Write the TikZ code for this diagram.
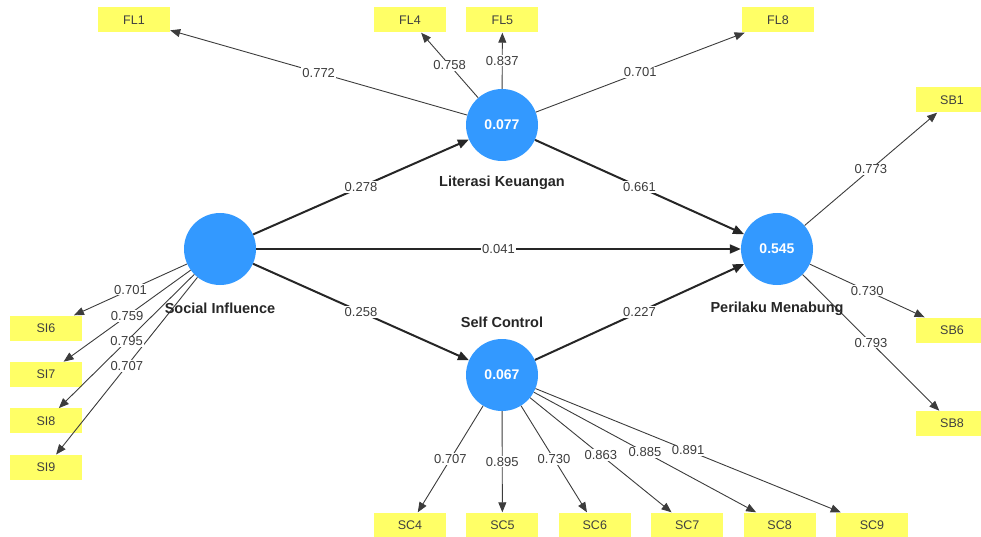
\documentclass[tikz,border=0pt]{standalone}
\usepackage{fontspec}
\setmainfont{Liberation Sans}
\usetikzlibrary{positioning,arrows.meta}
\definecolor{lvblue}{RGB}{51,153,255}
\definecolor{mvyellow}{RGB}{255,255,102}
\definecolor{txtgrey}{RGB}{60,60,60}
\begin{document}
\begin{tikzpicture}[x=1pt, y=-1pt,
    lv/.style = {circle, fill=lvblue, minimum size=72pt, inner sep=0pt, text=white, font=\fontsize{14}{16}\selectfont\bfseries},
    lvname/.style = {inner sep=0pt, text=black!85, font=\fontsize{14.5}{17}\selectfont\bfseries},
    ind/.style = {fill=mvyellow, minimum width=72pt, minimum height=25pt, inner sep=0pt, text=black!75, font=\fontsize{12.5}{14}\selectfont},
    loading/.style = {draw=txtgrey, line width=0.9pt, -{Triangle[length=10pt,width=8pt]}},
    struct/.style = {draw=black!85, line width=2pt, -{Triangle[length=11pt,width=9pt]}},
    coef/.style = {fill=white, inner sep=1pt, text=txtgrey, font=\fontsize{13}{15}\selectfont}]
      \useasboundingbox (0,0) rectangle (981,537);
      % latent variables
      \node[lv] (SI) at (220,249) {};
      \node[lv] (LK) at (502,125) {0.077};
      \node[lv] (SC) at (502,375) {0.067};
      \node[lv] (PM) at (777,249) {0.545};
      % indicators
      \node[ind] (FL1) at (134,20) {FL1};
      \node[ind] (FL4) at (410,20) {FL4};
      \node[ind] (FL5) [right=20pt of FL4] {FL5};
      \node[ind] (FL8) at (778,20) {FL8};
      \node[ind] (SB1) at (952,100) {SB1};
      \node[ind] (SB6) at (952,330) {SB6};
      \node[ind] (SB8) [below=68pt of SB6] {SB8};
      \node[ind] (SI6) at (46,328) {SI6};
      \node[ind] (SI7) [below=21pt of SI6] {SI7};
      \node[ind] (SI8) [below=21pt of SI7] {SI8};
      \node[ind] (SI9) [below=21pt of SI8] {SI9};
      \node[ind] (SC4) at (410,525) {SC4};
      \node[ind] (SC5) [right=20pt of SC4] {SC5};
      \node[ind] (SC6) [right=20pt of SC5] {SC6};
      \node[ind] (SC7) [right=20pt of SC6] {SC7};
      \node[ind] (SC8) [right=20pt of SC7] {SC8};
      \node[ind] (SC9) [right=20pt of SC8] {SC9};
      % inner model
      \draw[struct] (SI) -- node[coef] {0.278} (LK);
      \draw[struct] (SI) -- node[coef] {0.041} (PM);
      \draw[struct] (SI) -- node[coef] {0.258} (SC);
      \draw[struct] (LK) -- node[coef] {0.661} (PM);
      \draw[struct] (SC) -- node[coef] {0.227} (PM);
      % outer model
      \draw[loading] (LK) -- node[coef] {0.772} (FL1);
      \draw[loading] (LK) -- node[coef] {0.758} (FL4);
      \draw[loading] (LK) -- node[coef] {0.837} (FL5);
      \draw[loading] (LK) -- node[coef] {0.701} (FL8);
      \draw[loading] (PM) -- node[coef] {0.773} (SB1);
      \draw[loading] (PM) -- node[coef] {0.730} (SB6);
      \draw[loading] (PM) -- node[coef] {0.793} (SB8);
      \draw[loading] (SI) -- node[coef] {0.707} (SI9);
      \draw[loading] (SI) -- node[coef] {0.795} (SI8);
      \draw[loading] (SI) -- node[coef] {0.759} (SI7);
      \draw[loading] (SI) -- node[coef] {0.701} (SI6);
      \draw[loading] (SC) -- node[coef] {0.707} (SC4);
      \draw[loading] (SC) -- node[coef] {0.895} (SC5);
      \draw[loading] (SC) -- node[coef] {0.730} (SC6);
      \draw[loading] (SC) -- node[coef] {0.863} (SC7);
      \draw[loading] (SC) -- node[coef] {0.885} (SC8);
      \draw[loading] (SC) -- node[coef] {0.891} (SC9);
      % names
      \node[lvname] (SIname) [below=18pt of SI] {Social Influence};
      \node[lvname] (LKname) [below=15pt of LK] {Literasi Keuangan};
      \node[lvname] (SCname) [above=11pt of SC] {Self Control};
      \node[lvname] (PMname) [below=17pt of PM] {Perilaku Menabung};
    \end{tikzpicture}
\end{document}
